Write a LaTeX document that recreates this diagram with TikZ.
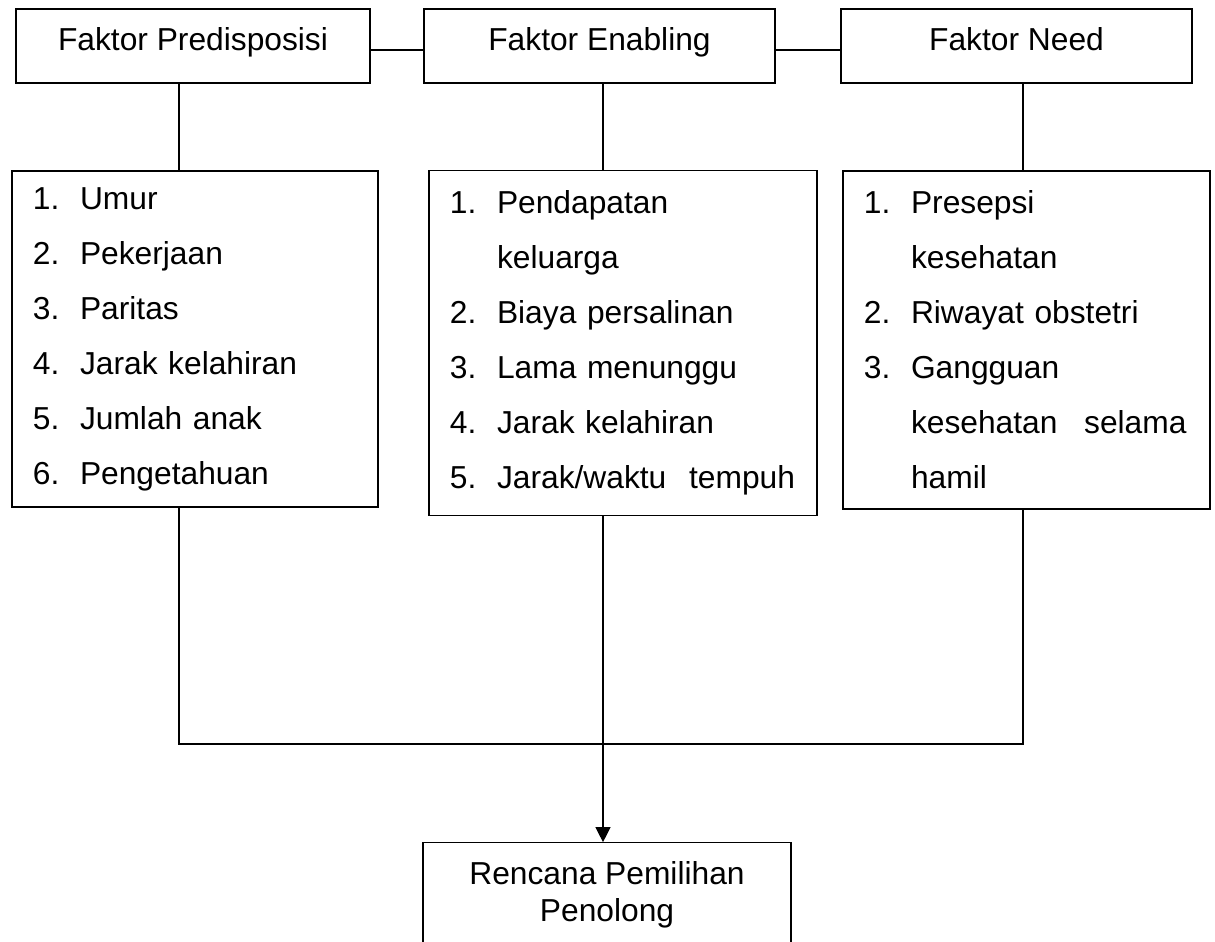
\documentclass[tikz,border=0pt]{standalone}
\usepackage{fontspec}
\setmainfont{Liberation Sans}
\usetikzlibrary{arrows.meta}
\tikzset{
	garis/.style={line width=0.5pt},
	faktor/.style={draw, garis, minimum width=137.1pt, minimum height=28.9pt, inner sep=0pt, text height=8.8pt, text depth=5.4pt},
	daftar/.style={draw, garis, inner xsep=8.2pt, inner ysep=0pt, align=left, font=\fontsize{12.4pt}{21.5pt}\selectfont}
}
\newcommand{\butir}[2]{\makebox[18.4pt][l]{#1}#2}
\newcommand{\lanjut}[1]{\hspace*{18.4pt}#1}

\begin{document}
\begin{tikzpicture}[x=0.3906pt, y=-0.3906pt, font=\fontsize{12.4pt}{14.5pt}\selectfont]
		\useasboundingbox (0,0) rectangle (1215,941);
		\clip (0,0) rectangle (1215,941);
		\node[faktor, minimum width=138.3pt] (predis) at (193,46) {Faktor Predisposisi};
		\node[faktor] (enabling) at (599.5,46) {Faktor Enabling};
		\node[faktor] (need) at (1016.5,46) {Faktor Need};
		\node[daftar, text width=126.6pt, minimum height=131.2pt] (listpredis) at (195,339) {\butir{1.}{Umur}\\ \butir{2.}{Pekerjaan}\\ \butir{3.}{Paritas}\\ \butir{4.}{Jarak kelahiran}\\ \butir{5.}{Jumlah anak}\\ \butir{6.}{Pengetahuan}};
		\node[daftar, text width=135.2pt, minimum height=134.8pt] (listenabling) at (623,343) {\butir{1.}{Pendapatan}\\ \lanjut{keluarga}\\ \butir{2.}{Biaya persalinan}\\ \butir{3.}{Lama menunggu}\\ \butir{4.}{Jarak kelahiran}\\ \butir{5.}{\makebox[116.4pt]{Jarak/waktu\hfill tempuh}}};
		\node[daftar, text width=127pt, minimum height=132pt] (listneed) at (1026.5,340) {\butir{1.}{Presepsi}\\ \lanjut{kesehatan}\\ \butir{2.}{Riwayat obstetri}\\ \butir{3.}{Gangguan}\\ \lanjut{\makebox[107.6pt]{kesehatan\hfill selama}}\\ \lanjut{hamil}};
		\node[draw, garis, minimum width=143.7pt, minimum height=40.4pt, inner sep=0pt, align=center] (rencana) at (607,894.5) {Rencana Pemilihan\\Penolong};
		\coordinate (hub) at (0,50);
		\coordinate (gabung) at (0,744);
		\coordinate (xp) at (179,0);
		\coordinate (xe) at (603,0);
		\coordinate (xn) at (1023,0);
		\draw[garis] (predis.east |- hub) -- (enabling.west |- hub);
		\draw[garis] (enabling.east |- hub) -- (need.west |- hub);
		\draw[garis] (predis.south -| xp) -- (listpredis.north -| xp);
		\draw[garis] (enabling.south -| xe) -- (listenabling.north -| xe);
		\draw[garis] (need.south -| xn) -- (listneed.north -| xn);
		\draw[garis] (listpredis.south -| xp) -- (xp |- gabung) -- (xn |- gabung) -- (listneed.south -| xn);
		\draw[garis, -{Triangle[length=5.9pt, width=5.9pt]}] (listenabling.south -| xe) -- (rencana.north -| xe);
	\end{tikzpicture}
\end{document}
